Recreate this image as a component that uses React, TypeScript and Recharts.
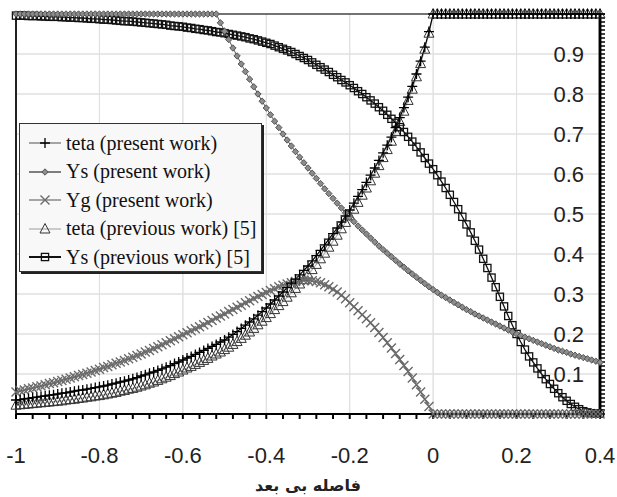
import React from 'react';
import { LineChart, Line, XAxis, YAxis, Legend, CartesianGrid } from 'recharts';

const W = 617;
const H = 497;

// x positions (dimensionless distance)
const xs = [
  -1, -0.99, -0.98, -0.97, -0.96, -0.95, -0.94, -0.93, -0.92, -0.91,
  -0.9, -0.89, -0.88, -0.87, -0.86, -0.85, -0.84, -0.83, -0.82, -0.81,
  -0.8, -0.79, -0.78, -0.77, -0.76, -0.75, -0.74, -0.73, -0.72, -0.71,
  -0.7, -0.69, -0.68, -0.67, -0.66, -0.65, -0.64, -0.63, -0.62, -0.61,
  -0.6, -0.59, -0.58, -0.57, -0.56, -0.55, -0.54, -0.53, -0.52, -0.51,
  -0.5, -0.49, -0.48, -0.47, -0.46, -0.45, -0.44, -0.43, -0.42, -0.41,
  -0.4, -0.39, -0.38, -0.37, -0.36, -0.35, -0.34, -0.33, -0.32, -0.31,
  -0.3, -0.29, -0.28, -0.27, -0.26, -0.25, -0.24, -0.23, -0.22, -0.21,
  -0.2, -0.19, -0.18, -0.17, -0.16, -0.15, -0.14, -0.13, -0.12, -0.11,
  -0.1, -0.09, -0.08, -0.07, -0.06, -0.05, -0.04, -0.03, -0.02, -0.01,
  0, 0.01, 0.02, 0.03, 0.04, 0.05, 0.06, 0.07, 0.08, 0.09,
  0.1, 0.11, 0.12, 0.13, 0.14, 0.15, 0.16, 0.17, 0.18, 0.19,
  0.2, 0.21, 0.22, 0.23, 0.24, 0.25, 0.26, 0.27, 0.28, 0.29,
  0.3, 0.31, 0.32, 0.33, 0.34, 0.35, 0.36, 0.37, 0.38, 0.39,
  0.4,
];

const tetaPresent = [
  0.035, 0.036, 0.038, 0.039, 0.041, 0.042, 0.044, 0.045, 0.047, 0.048,
  0.05, 0.052, 0.053, 0.055, 0.057, 0.059, 0.06, 0.062, 0.064, 0.066,
  0.068, 0.07, 0.072, 0.075, 0.077, 0.08, 0.082, 0.085, 0.088, 0.091,
  0.095, 0.098, 0.102, 0.105, 0.109, 0.113, 0.117, 0.121, 0.126, 0.13,
  0.135, 0.14, 0.144, 0.149, 0.154, 0.159, 0.164, 0.169, 0.174, 0.18,
  0.185, 0.192, 0.199, 0.206, 0.214, 0.222, 0.23, 0.238, 0.247, 0.256,
  0.265, 0.275, 0.285, 0.295, 0.305, 0.316, 0.327, 0.337, 0.348, 0.359,
  0.37, 0.383, 0.396, 0.409, 0.423, 0.437, 0.451, 0.465, 0.48, 0.495,
  0.51, 0.527, 0.544, 0.561, 0.579, 0.597, 0.615, 0.634, 0.653, 0.672,
  0.692, 0.716, 0.741, 0.766, 0.792, 0.819, 0.85, 0.882, 0.917, 0.956,
  1, 1, 1, 1, 1, 1, 1, 1, 1, 1,
  1, 1, 1, 1, 1, 1, 1, 1, 1, 1,
  1, 1, 1, 1, 1, 1, 1, 1, 1, 1,
  1, 1, 1, 1, 1, 1, 1, 1, 1, 1,
  1,
];

const ysPresent = [
  1, 1, 1, 1, 1, 1, 1, 1, 1, 1,
  1, 1, 1, 1, 1, 1, 1, 1, 1, 1,
  1, 1, 1, 1, 1, 1, 1, 1, 1, 1,
  1, 1, 1, 1, 1, 1, 1, 1, 1, 1,
  1, 1, 1, 1, 1, 1, 1, 1, 1, 0.978,
  0.957, 0.936, 0.915, 0.895, 0.875, 0.856, 0.837, 0.818, 0.8, 0.782,
  0.765, 0.748, 0.732, 0.716, 0.7, 0.685, 0.67, 0.656, 0.642, 0.628,
  0.615, 0.602, 0.589, 0.576, 0.563, 0.551, 0.539, 0.527, 0.515, 0.503,
  0.492, 0.481, 0.47, 0.46, 0.45, 0.44, 0.43, 0.42, 0.411, 0.402,
  0.393, 0.384, 0.375, 0.367, 0.358, 0.35, 0.342, 0.334, 0.326, 0.318,
  0.311, 0.304, 0.297, 0.291, 0.285, 0.279, 0.273, 0.267, 0.261, 0.256,
  0.25, 0.245, 0.24, 0.235, 0.23, 0.225, 0.22, 0.215, 0.21, 0.205,
  0.2, 0.196, 0.192, 0.188, 0.184, 0.18, 0.176, 0.172, 0.168, 0.164,
  0.16, 0.157, 0.154, 0.15, 0.147, 0.144, 0.141, 0.138, 0.135, 0.132,
  0.129,
];

const ygPresent = [
  0.055, 0.058, 0.06, 0.063, 0.065, 0.068, 0.07, 0.073, 0.076, 0.078,
  0.081, 0.084, 0.087, 0.09, 0.093, 0.096, 0.099, 0.102, 0.105, 0.109,
  0.112, 0.116, 0.119, 0.123, 0.127, 0.13, 0.134, 0.138, 0.142, 0.146,
  0.15, 0.155, 0.159, 0.164, 0.168, 0.173, 0.178, 0.183, 0.188, 0.193,
  0.198, 0.203, 0.208, 0.213, 0.218, 0.223, 0.229, 0.234, 0.24, 0.245,
  0.25, 0.256, 0.261, 0.267, 0.272, 0.278, 0.283, 0.289, 0.294, 0.299,
  0.304, 0.309, 0.313, 0.318, 0.322, 0.325, 0.328, 0.331, 0.333, 0.334,
  0.334, 0.333, 0.331, 0.328, 0.323, 0.318, 0.312, 0.305, 0.297, 0.288,
  0.278, 0.268, 0.258, 0.248, 0.238, 0.228, 0.216, 0.204, 0.191, 0.178,
  0.165, 0.151, 0.136, 0.121, 0.106, 0.09, 0.073, 0.055, 0.037, 0.019,
  0, 0, 0, 0, 0, 0, 0, 0, 0, 0,
  0, 0, 0, 0, 0, 0, 0, 0, 0, 0,
  0, 0, 0, 0, 0, 0, 0, 0, 0, 0,
  0, 0, 0, 0, 0, 0, 0, 0, 0, 0,
  0,
];

const tetaPrevious = [
  0.022, 0.023, 0.024, 0.025, 0.026, 0.027, 0.028, 0.029, 0.03, 0.031,
  0.032, 0.033, 0.035, 0.036, 0.037, 0.039, 0.04, 0.042, 0.043, 0.045,
  0.046, 0.048, 0.05, 0.052, 0.054, 0.057, 0.059, 0.062, 0.064, 0.067,
  0.07, 0.073, 0.077, 0.08, 0.084, 0.088, 0.092, 0.096, 0.101, 0.105,
  0.11, 0.115, 0.119, 0.124, 0.129, 0.134, 0.139, 0.145, 0.15, 0.155,
  0.161, 0.167, 0.174, 0.181, 0.189, 0.197, 0.205, 0.214, 0.223, 0.232,
  0.241, 0.251, 0.261, 0.271, 0.281, 0.292, 0.303, 0.314, 0.325, 0.336,
  0.348, 0.361, 0.374, 0.388, 0.402, 0.417, 0.432, 0.447, 0.463, 0.479,
  0.495, 0.512, 0.529, 0.547, 0.565, 0.583, 0.602, 0.621, 0.641, 0.661,
  0.682, 0.706, 0.731, 0.757, 0.784, 0.812, 0.843, 0.876, 0.912, 0.952,
  1, 1, 1, 1, 1, 1, 1, 1, 1, 1,
  1, 1, 1, 1, 1, 1, 1, 1, 1, 1,
  1, 1, 1, 1, 1, 1, 1, 1, 1, 1,
  1, 1, 1, 1, 1, 1, 1, 1, 1, 1,
  1,
];

const ysPrevious = [
  0.996, 0.996, 0.996, 0.995, 0.995, 0.995, 0.994, 0.994, 0.993, 0.993,
  0.993, 0.992, 0.992, 0.991, 0.991, 0.99, 0.99, 0.989, 0.988, 0.988,
  0.987, 0.986, 0.986, 0.985, 0.984, 0.983, 0.982, 0.982, 0.981, 0.98,
  0.979, 0.978, 0.977, 0.976, 0.975, 0.974, 0.973, 0.971, 0.97, 0.969,
  0.968, 0.966, 0.965, 0.963, 0.962, 0.96, 0.959, 0.957, 0.955, 0.954,
  0.952, 0.95, 0.948, 0.946, 0.944, 0.942, 0.939, 0.937, 0.934, 0.931,
  0.928, 0.925, 0.921, 0.917, 0.913, 0.909, 0.905, 0.9, 0.895, 0.89,
  0.885, 0.879, 0.873, 0.867, 0.861, 0.855, 0.848, 0.842, 0.835, 0.829,
  0.822, 0.815, 0.807, 0.8, 0.792, 0.784, 0.776, 0.767, 0.758, 0.748,
  0.738, 0.728, 0.717, 0.705, 0.693, 0.681, 0.668, 0.654, 0.64, 0.626,
  0.612, 0.597, 0.581, 0.565, 0.548, 0.53, 0.512, 0.493, 0.474, 0.454,
  0.433, 0.411, 0.388, 0.365, 0.341, 0.317, 0.293, 0.269, 0.245, 0.222,
  0.2, 0.18, 0.161, 0.144, 0.129, 0.114, 0.1, 0.087, 0.075, 0.063,
  0.052, 0.042, 0.033, 0.025, 0.018, 0.012, 0.007, 0.004, 0.002, 0.001,
  0.001,
];

const X_MIN = -1;
const X_MAX = 0.4;
const Y_MIN = 0;
const Y_MAX = 1;
const xTicks = [-1, -0.8, -0.6, -0.4, -0.2, 0, 0.2, 0.4];
const xMinorTicks = [
  -1, -0.96, -0.92, -0.88, -0.84, -0.8, -0.76, -0.72, -0.68, -0.64,
  -0.6, -0.56, -0.52, -0.48, -0.44, -0.4, -0.36, -0.32, -0.28, -0.24,
  -0.2, -0.16, -0.12, -0.08, -0.04, 0, 0.04, 0.08, 0.12, 0.16,
  0.2, 0.24, 0.28, 0.32, 0.36, 0.4,
];
const yTicks = [0, 0.1, 0.2, 0.3, 0.4, 0.5, 0.6, 0.7, 0.8, 0.9, 1];
const yLabelled = [0.1, 0.2, 0.3, 0.4, 0.5, 0.6, 0.7, 0.8, 0.9];
const yMinorTicks = [
  0, 0.01, 0.02, 0.03, 0.04, 0.05, 0.06, 0.07, 0.08, 0.09,
  0.1, 0.11, 0.12, 0.13, 0.14, 0.15, 0.16, 0.17, 0.18, 0.19,
  0.2, 0.21, 0.22, 0.23, 0.24, 0.25, 0.26, 0.27, 0.28, 0.29,
  0.3, 0.31, 0.32, 0.33, 0.34, 0.35, 0.36, 0.37, 0.38, 0.39,
  0.4, 0.41, 0.42, 0.43, 0.44, 0.45, 0.46, 0.47, 0.48, 0.49,
  0.5, 0.51, 0.52, 0.53, 0.54, 0.55, 0.56, 0.57, 0.58, 0.59,
  0.6, 0.61, 0.62, 0.63, 0.64, 0.65, 0.66, 0.67, 0.68, 0.69,
  0.7, 0.71, 0.72, 0.73, 0.74, 0.75, 0.76, 0.77, 0.78, 0.79,
  0.8, 0.81, 0.82, 0.83, 0.84, 0.85, 0.86, 0.87, 0.88, 0.89,
  0.9, 0.91, 0.92, 0.93, 0.94, 0.95, 0.96, 0.97, 0.98, 0.99,
  1,
];

const seriesNames = [
  'teta (present work)',
  'Ys (present work)',
  'Yg (present work)',
  'teta (previous work) [5]',
  'Ys (previous work) [5]',
];
const xTitle = 'فاصله بی بعد';

const rows = xs.map((x, i) => ({
  x,
  tetaPresent: tetaPresent[i],
  ysPresent: ysPresent[i],
  ygPresent: ygPresent[i],
  tetaPrevious: tetaPrevious[i],
  ysPrevious: ysPrevious[i],
}));

// frame and grid drawn as helper segments through the chart scales
const gridV = xTicks.slice(1, -1).map((t) => [{ x: t, v: Y_MIN }, { x: t, v: Y_MAX }]);
const gridH = yTicks.slice(1, -1).map((t) => [{ x: X_MIN, v: t }, { x: X_MAX, v: t }]);
const frameTop = [{ x: X_MIN, v: Y_MAX }, { x: X_MAX, v: Y_MAX }];
const frameLeft = [{ x: X_MIN, v: Y_MIN }, { x: X_MIN, v: Y_MAX }];
const frameRight = [{ x: X_MAX, v: Y_MIN }, { x: X_MAX, v: Y_MAX }];

const near = (list: number[], v: number) => list.some((t) => Math.abs(t - v) < 1e-9);

type MarkerKind = 'plus' | 'diamond' | 'cross' | 'triangle' | 'square';

function Marker({ kind, cx, cy }: { kind: MarkerKind; cx: number; cy: number }) {
  switch (kind) {
    case 'plus':
      return (
        <path
          d={`M${cx - 5},${cy}H${cx + 5}M${cx},${cy - 5}V${cy + 5}`}
          stroke="#000"
          strokeWidth={1.3}
          fill="none"
        />
      );
    case 'diamond':
      return (
        <path
          d={`M${cx},${cy - 3.2}L${cx + 3.2},${cy}L${cx},${cy + 3.2}L${cx - 3.2},${cy}Z`}
          fill="#8c8c8c"
          stroke="#4a4a4a"
          strokeWidth={0.9}
        />
      );
    case 'cross':
      return (
        <path
          d={`M${cx - 4.5},${cy - 4.5}L${cx + 4.5},${cy + 4.5}M${cx - 4.5},${cy + 4.5}L${cx + 4.5},${cy - 4.5}`}
          stroke="#6a6a6a"
          strokeWidth={1.4}
          fill="none"
        />
      );
    case 'triangle':
      return (
        <path
          d={`M${cx},${cy - 5.5}L${cx + 5},${cy + 4}L${cx - 5},${cy + 4}Z`}
          stroke="#333"
          strokeWidth={1}
          fill="none"
        />
      );
    case 'square':
    default:
      return (
        <rect x={cx - 3.6} y={cy - 3.6} width={7.2} height={7.2} stroke="#111" strokeWidth={1.3} fill="none" />
      );
  }
}

const makeDot = (kind: MarkerKind) => (props: any) => {
  const { cx, cy, index } = props;
  if (cx == null || cy == null) return <g key={`${kind}-${index}`} />;
  return (
    <g key={`${kind}-${index}`}>
      <Marker kind={kind} cx={cx} cy={cy} />
    </g>
  );
};

const legendItems: { name: string; kind: MarkerKind; line: string; lineW: number }[] = [
  { name: seriesNames[0], kind: 'plus', line: '#888', lineW: 1.5 },
  { name: seriesNames[1], kind: 'diamond', line: '#555', lineW: 1.5 },
  { name: seriesNames[2], kind: 'cross', line: '#888', lineW: 1.5 },
  { name: seriesNames[3], kind: 'triangle', line: '#bbb', lineW: 1.5 },
  { name: seriesNames[4], kind: 'square', line: '#111', lineW: 2 },
];

function LegendBox() {
  return (
    <div
      style={{
        boxSizing: 'border-box',
        width: 243,
        height: 149,
        border: '1.5px solid #333',
        boxShadow: '2px 2px 0 #222',
        background: '#f8f8f8',
        padding: '5px 0 0 9px',
      }}
    >
      {legendItems.map((it) => (
        <div
          key={it.name}
          style={{
            display: 'flex',
            alignItems: 'center',
            height: 28.5,
            fontFamily: '"Liberation Serif", "Times New Roman", serif',
            fontSize: 20,
            color: '#111',
            whiteSpace: 'nowrap',
          }}
        >
          <svg width={34} height={16} style={{ marginRight: 3, flex: 'none' }}>
            <line x1={0} y1={8} x2={32} y2={8} stroke={it.line} strokeWidth={it.lineW} />
            <Marker kind={it.kind} cx={16} cy={8} />
          </svg>
          <span>{it.name}</span>
        </div>
      ))}
    </div>
  );
}

const tickFont = { fontFamily: '"Liberation Sans", Arial, sans-serif', fontSize: 22, fill: '#222' };

// bottom axis labels (only on the major ticks); props.y is below the tick line
const XTick = (props: any) => {
  const v = props.payload.value;
  if (!near(xTicks, v)) return <g />;
  return (
    <text x={Number(props.x)} y={Number(props.y) + 25} dy="0.71em" textAnchor="middle" {...tickFont}>
      {String(v)}
    </text>
  );
};

// right axis labels, placed inside the plot
const YTick = (props: any) => {
  const v = props.payload.value;
  if (!near(yLabelled, v)) return <g />;
  return (
    <text x={Number(props.x) - 22} y={Number(props.y)} dy="0.36em" textAnchor="end" {...tickFont}>
      {String(v)}
    </text>
  );
};

const helper = { isAnimationActive: false, legendType: 'none' as const, activeDot: false as const };

export default function App() {
  return (
    <div style={{ position: 'absolute', left: 0, top: 0, width: W, height: H, background: '#fff' }}>
      <LineChart width={W} height={H} data={rows} margin={{ top: 14, right: 10, bottom: 0, left: 16 }}>
        <CartesianGrid
          stroke="#e0e0e0"
          horizontalValues={yLabelled}
          verticalValues={xTicks.slice(1, -1)}
        />
        <XAxis
          dataKey="x"
          type="number"
          domain={[X_MIN, X_MAX]}
          ticks={xMinorTicks}
          interval={0}
          height={83}
          tickSize={5}
          tickMargin={3}
          tickLine={{ stroke: '#000', strokeWidth: 2 }}
          axisLine={{ stroke: '#000', strokeWidth: 2 }}
          tick={<XTick />}
          label={{
            value: xTitle,
            position: 'insideBottom',
            offset: 6,
            style: { fontFamily: '"DejaVu Sans", Arial, sans-serif', fontWeight: 'bold', fontSize: 16, fill: '#222' },
          }}
        />
        <YAxis
          type="number"
          domain={[Y_MIN, Y_MAX]}
          ticks={yMinorTicks}
          interval={0}
          orientation="right"
          width={7}
          tickSize={5}
          tickMargin={1}
          tickLine={{ stroke: '#000', strokeWidth: 1.5 }}
          axisLine={{ stroke: '#000', strokeWidth: 2.5 }}
          tick={<YTick />}
        />
        <Legend
          layout="vertical"
          align="center"
          verticalAlign="middle"
          wrapperStyle={{ left: 19, top: 123, width: 245, height: 151 }}
          content={() => <LegendBox />}
        />
        {gridV.map((d, i) => (
          <Line key={`gv${i}`} data={d} dataKey="v" stroke="#e0e0e0" strokeWidth={1} dot={false} {...helper} />
        ))}
        {gridH.map((d, i) => (
          <Line key={`gh${i}`} data={d} dataKey="v" stroke="#e0e0e0" strokeWidth={1} dot={false} {...helper} />
        ))}
        <Line data={frameTop} dataKey="v" stroke="#444" strokeWidth={1.5} dot={false} {...helper} />
        <Line data={frameLeft} dataKey="v" stroke="#222" strokeWidth={2} dot={false} {...helper} />
        <Line data={frameRight} dataKey="v" stroke="#000" strokeWidth={2.5} dot={false} {...helper} />
        <Line
          dataKey="tetaPrevious"
          name={seriesNames[3]}
          stroke="#b4b4b4"
          strokeWidth={1.2}
          dot={makeDot('triangle')}
          isAnimationActive={false}
        />
        <Line
          dataKey="ysPrevious"
          name={seriesNames[4]}
          stroke="#111"
          strokeWidth={1.3}
          dot={makeDot('square')}
          isAnimationActive={false}
        />
        <Line
          dataKey="ygPresent"
          name={seriesNames[2]}
          stroke="#666"
          strokeWidth={1.2}
          dot={makeDot('cross')}
          isAnimationActive={false}
        />
        <Line
          dataKey="ysPresent"
          name={seriesNames[1]}
          stroke="#555"
          strokeWidth={1}
          dot={makeDot('diamond')}
          isAnimationActive={false}
        />
        <Line
          dataKey="tetaPresent"
          name={seriesNames[0]}
          stroke="#000"
          strokeWidth={1.2}
          dot={makeDot('plus')}
          isAnimationActive={false}
        />
      </LineChart>
    </div>
  );
}
